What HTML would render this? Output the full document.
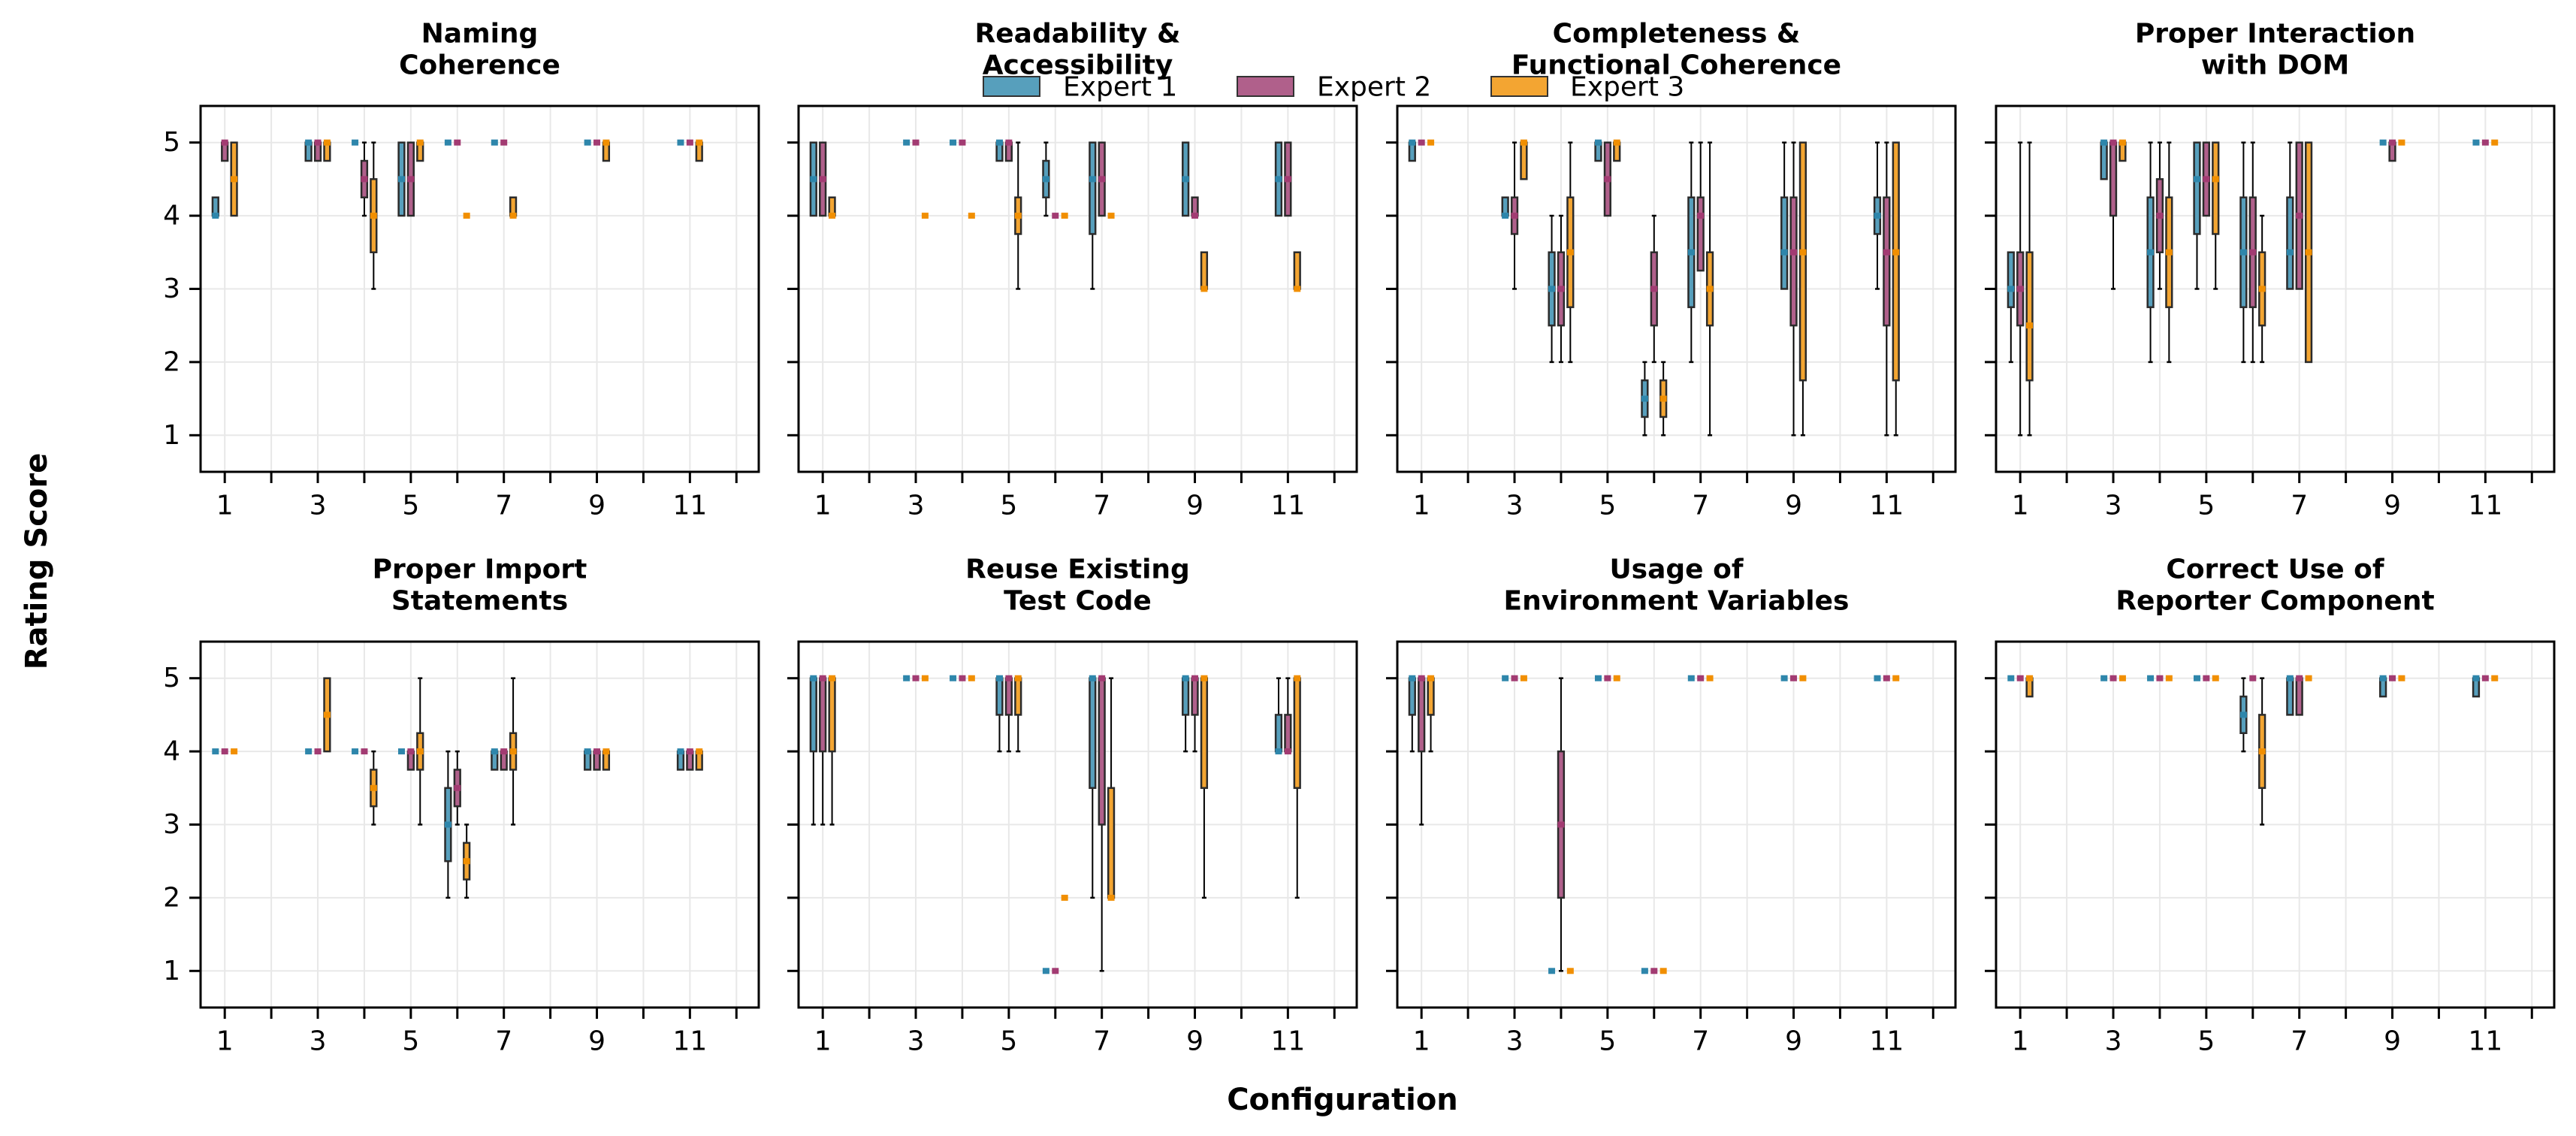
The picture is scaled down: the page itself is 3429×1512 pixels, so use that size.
<!DOCTYPE html>
<html><head><meta charset="utf-8"><style>
html,body{margin:0;padding:0;background:#fff;}
svg{display:block;font-family:"DejaVu Sans","Liberation Sans",sans-serif;}
</style></head><body>
<svg id="chart" width="3429" height="1512" viewBox="0 0 3429 1512" xmlns="http://www.w3.org/2000/svg">
<rect x="0" y="0" width="3429" height="1512" fill="#fff"/>
<g>
  <rect x="1309" y="102" width="75" height="26" fill="#579fbc" stroke="#333" stroke-width="2"/>
  <text x="1415" y="116" font-size="36" dominant-baseline="central">Expert 1</text>
  <rect x="1647" y="102" width="75" height="26" fill="#b0608b" stroke="#333" stroke-width="2"/>
  <text x="1753" y="116" font-size="36" dominant-baseline="central">Expert 2</text>
  <rect x="1985" y="102" width="75" height="26" fill="#f3a532" stroke="#333" stroke-width="2"/>
  <text x="2090" y="116" font-size="36" dominant-baseline="central">Expert 3</text>
</g>
<text x="49" y="747" font-size="40" font-weight="bold" text-anchor="middle" dominant-baseline="central" transform="rotate(-90 49 747)">Rating Score</text>
<text x="1787" y="1464" font-size="40" font-weight="bold" text-anchor="middle" dominant-baseline="central">Configuration</text>
</svg>
<script>
const configs = [1, 3, 4, 5, 6, 7, 9, 11];
const experts = ["Expert 1", "Expert 2", "Expert 3"];
const panelTitles = [
  ["Naming", "Coherence"],
  ["Readability &", "Accessibility"],
  ["Completeness &", "Functional Coherence"],
  ["Proper Interaction", "with DOM"],
  ["Proper Import", "Statements"],
  ["Reuse Existing", "Test Code"],
  ["Usage of", "Environment Variables"],
  ["Correct Use of", "Reporter Component"]
];
const xTickLabels = [1, 3, 5, 7, 9, 11];
const yTickLabels = [1, 2, 3, 4, 5];
// each entry: per config, per expert: [whiskerLow, q1, median, q3, whiskerHigh] or single value
const namingData = [
  [[4,4,4,4.25,4.25],[4.75,4.75,5,5,5],[4,4,4.5,5,5]],
  [[4.75,4.75,5,5,5],[4.75,4.75,5,5,5],[4.75,4.75,5,5,5]],
  [5,[4,4.25,4.5,4.75,5],[3,3.5,4,4.5,5]],
  [[4,4,4.5,5,5],[4,4,4.5,5,5],[4.75,4.75,5,5,5]],
  [5,5,4],
  [5,5,[4,4,4,4.25,4.25]],
  [5,5,[4.75,4.75,5,5,5]],
  [5,5,[4.75,4.75,5,5,5]]
];
const readabilityData = [
  [[4,4,4.5,5,5],[4,4,4.5,5,5],[4,4,4,4.25,4.25]],
  [5,5,4],
  [5,5,4],
  [[4.75,4.75,5,5,5],[4.75,4.75,5,5,5],[3,3.75,4,4.25,5]],
  [[4,4.25,4.5,4.75,5],4,4],
  [[3,3.75,4.5,5,5],[4,4,4.5,5,5],4],
  [[4,4,4.5,5,5],[4,4,4,4.25,4.25],[3,3,3,3.5,3.5]],
  [[4,4,4.5,5,5],[4,4,4.5,5,5],[3,3,3,3.5,3.5]]
];
const completenessData = [
  [[4.75,4.75,5,5,5],5,5],
  [[4,4,4,4.25,4.25],[3,3.75,4,4.25,5],[4.5,4.5,5,5,5]],
  [[2,2.5,3,3.5,4],[2,2.5,3,3.5,4],[2,2.75,3.5,4.25,5]],
  [[4.75,4.75,5,5,5],[4,4,4.5,5,5],[4.75,4.75,5,5,5]],
  [[1,1.25,1.5,1.75,2],[2,2.5,3,3.5,4],[1,1.25,1.5,1.75,2]],
  [[2,2.75,3.5,4.25,5],[3.25,3.25,4,4.25,5],[1,2.5,3,3.5,5]],
  [[3,3,3.5,4.25,5],[1,2.5,3.5,4.25,5],[1,1.75,3.5,5,5]],
  [[3,3.75,4,4.25,5],[1,2.5,3.5,4.25,5],[1,1.75,3.5,5,5]]
];
const domData = [
  [[2,2.75,3,3.5,3.5],[1,2.5,3,3.5,5],[1,1.75,2.5,3.5,5]],
  [[4.5,4.5,5,5,5],[3,4,5,5,5],[4.75,4.75,5,5,5]],
  [[2,2.75,3.5,4.25,5],[3,3.5,4,4.5,5],[2,2.75,3.5,4.25,5]],
  [[3,3.75,4.5,5,5],[4,4,4.5,5,5],[3,3.75,4.5,5,5]],
  [[2,2.75,3.5,4.25,5],[2,2.75,3.5,4.25,5],[2,2.5,3,3.5,4]],
  [[3,3,3.5,4.25,5],[3,3,4,5,5],[2,2,3.5,5,5]],
  [5,[4.75,4.75,5,5,5],5],
  [5,5,5]
];
const importData = [
  [4,4,4],
  [4,4,[4,4,4.5,5,5]],
  [4,4,[3,3.25,3.5,3.75,4]],
  [4,[3.75,3.75,4,4,4],[3,3.75,4,4.25,5]],
  [[2,2.5,3,3.5,4],[3,3.25,3.5,3.75,4],[2,2.25,2.5,2.75,3]],
  [[3.75,3.75,4,4,4],[3.75,3.75,4,4,4],[3,3.75,4,4.25,5]],
  [[3.75,3.75,4,4,4],[3.75,3.75,4,4,4],[3.75,3.75,4,4,4]],
  [[3.75,3.75,4,4,4],[3.75,3.75,4,4,4],[3.75,3.75,4,4,4]]
];
const reuseData = [
  [[3,4,5,5,5],[3,4,5,5,5],[3,4,5,5,5]],
  [5,5,5],
  [5,5,5],
  [[4,4.5,5,5,5],[4,4.5,5,5,5],[4,4.5,5,5,5]],
  [1,1,2],
  [[2,3.5,5,5,5],[1,3,5,5,5],[2,2,2,3.5,5]],
  [[4,4.5,5,5,5],[4,4.5,5,5,5],[2,3.5,5,5,5]],
  [[4,4,4,4.5,5],[4,4,4,4.5,5],[2,3.5,5,5,5]]
];
const envData = [
  [[4,4.5,5,5,5],[3,4,5,5,5],[4,4.5,5,5,5]],
  [5,5,5],
  [1,[1,2,3,4,5],1],
  [5,5,5],
  [1,1,1],
  [5,5,5],
  [5,5,5],
  [5,5,5]
];
const reporterData = [
  [5,5,[4.75,4.75,5,5,5]],
  [5,5,5],
  [5,5,5],
  [5,5,5],
  [[4,4.25,4.5,4.75,5],5,[3,3.5,4,4.5,5]],
  [[4.5,4.5,5,5,5],[4.5,4.5,5,5,5],5],
  [[4.75,4.75,5,5,5],5,5],
  [[4.75,4.75,5,5,5],5,5]
];
const allData = [namingData, readabilityData, completenessData, domData, importData, reuseData, envData, reporterData];

const NS = "http://www.w3.org/2000/svg";
const svg = document.getElementById("chart");
const panelX = [267, 1063, 1860, 2657];
const panelY = [141, 854];
const PW = 743, PH = 487;
const XMIN = 0.48, XMAX = 12.48, YMIN = 0.5, YMAX = 5.5;
const offsets = [-0.2, 0, 0.2];
const fills = ["#579fbc", "#b0608b", "#f3a532"];
const dark = ["#2e86ab", "#a23b72", "#f18f01"];
const BW = 0.125;

function mk(tag, attrs, parent) {
  const e = document.createElementNS(NS, tag);
  for (const k in attrs) e.setAttribute(k, attrs[k]);
  parent.appendChild(e);
  return e;
}

allData.forEach((data, pi) => {
  const x0 = panelX[pi % 4], y0 = panelY[Math.floor(pi / 4)];
  const xs = v => x0 + (v - XMIN) / (XMAX - XMIN) * PW;
  const ys = v => y0 + (YMAX - v) / (YMAX - YMIN) * PH;
  const g = mk("g", {}, svg);
  
  
  // title
  panelTitles[pi].forEach((line, li) => {
    const t = mk("text", {x: x0 + PW / 2, y: y0 - 96 + li * 42, "font-size": 36, "font-weight": "bold", "text-anchor": "middle", "dominant-baseline": "central"}, g);
    
    
    t.textContent = line;
  });
  // grid
  for (let v = 1; v <= 12; v++) {
    const l = mk("line", {x1: xs(v), x2: xs(v), y1: y0, y2: y0 + PH, stroke: "#e8e8e8", "stroke-width": 2}, g);
    
    
  }
  yTickLabels.forEach(v => {
    const l = mk("line", {x1: x0, x2: x0 + PW, y1: ys(v), y2: ys(v), stroke: "#e8e8e8", "stroke-width": 2}, g);
    
    
  });
  // ticks
  for (let v = 1; v <= 12; v++) {
    const t = mk("line", {x1: xs(v), x2: xs(v), y1: y0 + PH, y2: y0 + PH + 15, stroke: "#000", "stroke-width": 3}, g);
    
    
  }
  xTickLabels.forEach(v => {
    const t = mk("text", {x: xs(v), y: y0 + PH + 45, "font-size": 36, "text-anchor": "middle", "dominant-baseline": "central"}, g);
    
    
    t.textContent = v;
  });
  yTickLabels.forEach(v => {
    const t = mk("line", {x1: x0 - 15, x2: x0, y1: ys(v), y2: ys(v), stroke: "#000", "stroke-width": 3}, g);
    
    
    if (pi % 4 === 0) {
      const tl = mk("text", {x: x0 - 27, y: ys(v), "font-size": 36, "text-anchor": "end", "dominant-baseline": "central"}, g);
      
      
      tl.textContent = v;
    }
  });
  // boxes
  data.forEach((cfg, ci) => {
    cfg.forEach((s, ei) => {
      const st = Array.isArray(s) ? s : [s, s, s, s, s];
      const cx = xs(configs[ci] + offsets[ei]);
      const hw = BW / 2 / (XMAX - XMIN) * PW;
      const bg = mk("g", {}, g);
      
      
      if (st[0] < st[1]) {
        mk("line", {x1: cx, x2: cx, y1: ys(st[0]), y2: ys(st[1]), stroke: "#000", "stroke-width": 2}, bg);
        mk("line", {x1: cx - 3, x2: cx + 3, y1: ys(st[0]), y2: ys(st[0]), stroke: "#000", "stroke-width": 2.5}, bg);
      }
      if (st[4] > st[3]) {
        mk("line", {x1: cx, x2: cx, y1: ys(st[4]), y2: ys(st[3]), stroke: "#000", "stroke-width": 2}, bg);
        mk("line", {x1: cx - 3, x2: cx + 3, y1: ys(st[4]), y2: ys(st[4]), stroke: "#000", "stroke-width": 2.5}, bg);
      }
      if (st[3] > st[1]) {
        mk("rect", {x: cx - hw, y: ys(st[3]), width: 2 * hw, height: ys(st[1]) - ys(st[3]), fill: fills[ei], stroke: "#2b2b2b", "stroke-width": 2.5}, bg);
      }
      mk("rect", {x: cx - 4.5, y: ys(st[2]) - 4, width: 9, height: 8, fill: dark[ei]}, bg);
    });
  });
  // frame
  const fr = mk("rect", {x: x0, y: y0, width: PW, height: PH, fill: "none", stroke: "#000", "stroke-width": 3}, g);
  
  
});
</script>
</body></html>
